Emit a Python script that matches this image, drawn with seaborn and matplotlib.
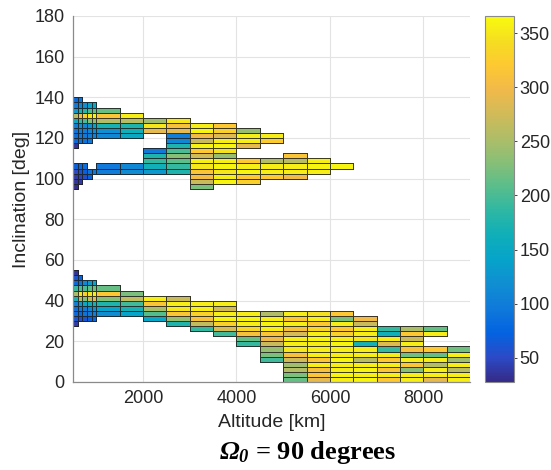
import numpy as np
import pandas as pd
import matplotlib
matplotlib.use("Agg")
import matplotlib.pyplot as plt
from matplotlib.colors import LinearSegmentedColormap, to_rgba
import seaborn as sns

nan = np.nan

# Altitude bins [km]: 100 km wide up to 1000 km, 500 km wide above
alt_edges = [500, 600, 700, 800, 900, 1000, 1500, 2000, 2500, 3000, 3500, 4000,
             4500, 5000, 5500, 6000, 6500, 7000, 7500, 8000, 8500, 9000]
inc_step = 2.5
inc_edges = list(np.arange(0, 180 + inc_step, inc_step))

# Retrograde group: inclination of the top edge of each altitude column and the
# cell values from that edge downwards (nan = empty cell)
upper_top = [140, 140, 137.5, 137.5, 137.5, 135, 132.5, 130, 130, 127.5, 127.5,
             125, 122.5, 112.5, 110, 107.5, None, None, None, None, None]
upper_values = [
    [80, 95, 130, 260, 150, 100, 90, 85, 80, 35, nan, nan, nan, 70, 50, 40, 35, 30],
    [90, 110, 170, 300, 190, 120, 100, 95, 90, nan, nan, nan, nan, 80, 60, 45, 40],
    [120, 180, 330, 200, 110, 100, 95, 90, nan, nan, nan, nan, 85, 70, 55],
    [140, 200, 350, 230, 120, 110, 100, 95, nan, nan, nan, nan, nan, 90, 75],
    [150, 210, 360, 240, 140, 115, 105, nan, nan, nan, nan, nan, nan, 95],
    [215, 315, 255, 170, 120, 110, nan, nan, nan, nan, nan, 95, 100],
    [355, 260, 175, 165, 150, nan, nan, nan, nan, nan, 110, 115],
    [245, 350, 290, nan, nan, nan, 95, 175, 190, 165, 130],
    [350, 310, 290, 100, 110, 175, 200, 230, 210, 190, 175],
    [355, 360, 300, 270, 360, 320, 275, 355, 350, 315, 305, 270, 225],
    [320, 330, 285, 355, 360, 345, 240, 355, 360, 350, 355, 360],
    [240, 355, 355, 290, nan, nan, 320, 355, 360, 320, 330],
    [355, 325, nan, nan, nan, 255, 355, 355, 320],
    [315, 260, 355, 355, 300],
    [355, 360, 355],
    [360],
    [], [], [], [], [],
]

# Prograde group, same layout
lower_top = [55, 52.5, 50, 50, 50, 47.5, 45, 42.5, 42.5, 40, 40, 35, 35, 35, 35,
             35, 32.5, 27.5, 27.5, 27.5, 17.5]
lower_values = [
    [35, 60, 80, 190, 250, 170, 100, 85, 80, 60, 40],
    [75, 90, 200, 350, 260, 130, 95, 80, 55],
    [110, 200, 330, 230, 150, 100, 90, 60],
    [130, 210, 350, 270, 160, 110, 95, 70],
    [140, 220, 355, 290, 170, 120, 100, 80],
    [215, 320, 230, 175, 140, 115],
    [225, 265, 195, 170, 140],
    [355, 315, 250, 205, 145],
    [270, 355, 350, 315, 240, 175],
    [355, 355, 330, 310, 265, 190],
    [355, 275, 355, 360, 330, 280, 195],
    [355, 360, 355, 335, 310, 215, 190],
    [255, 355, 360, 355, 315, 295, 270, 240, 225, 195],
    [355, 320, 355, 310, 280, 355, 355, 350, 310, 275, 245, 255, 225, 215],
    [345, 355, 320, 335, 355, 360, 355, 355, 355, 315, 355, 310, 315, 290],
    [320, 225, 355, 320, 330, 355, 360, 355, 355, 360, 355, 355, 360, 355],
    [300, 270, 355, 355, 350, 170, 355, 355, 260, 355, 360, 355, 360],
    [190, 165, 355, 285, 190, 355, 320, 355, 315, 355, 320],
    [250, 320, 270, 355, 310, 220, 355, 315, 230, 355, 355],
    [215, 355, nan, nan, 320, 215, 355, 255, 355, 355, 290],
    [220, 355, 245, 355, 260, 355, 355],
]

color_limits = (27.5, 366)

# Parula-like colour map
parula_anchors = [
    (0.2081, 0.1663, 0.5292), (0.1707, 0.2919, 0.7792), (0.0117, 0.3875, 0.8820),
    (0.0629, 0.4737, 0.8554), (0.0641, 0.5570, 0.8240), (0.0231, 0.6418, 0.7913),
    (0.0590, 0.6838, 0.7254), (0.1801, 0.7177, 0.6424), (0.3482, 0.7424, 0.5473),
    (0.5300, 0.7491, 0.4661), (0.6834, 0.7435, 0.4044), (0.8185, 0.7327, 0.3498),
    (0.9450, 0.7261, 0.2886), (0.9955, 0.7861, 0.1967), (0.9626, 0.8705, 0.1309),
    (0.9763, 0.9831, 0.0538),
]
parula = LinearSegmentedColormap.from_list("parula", parula_anchors, N=256)

# Long-form table: one row per filled cell, value used as the histogram weight
records = []
for tops, values in ((upper_top, upper_values), (lower_top, lower_values)):
    for j, (top, column) in enumerate(zip(tops, values)):
        if top is None:
            continue
        alt_mid = 0.5 * (alt_edges[j] + alt_edges[j + 1])
        for k, v in enumerate(column):
            if np.isnan(v):
                continue
            records.append({"altitude": alt_mid,
                            "inclination": top - inc_step * (k + 0.5),
                            "value": v})
cells = pd.DataFrame(records)

sns.set_theme(style="whitegrid")
plt.rcParams["font.family"] = ["Liberation Sans", "DejaVu Sans"]
plt.rcParams["mathtext.fontset"] = "custom"
plt.rcParams["mathtext.rm"] = "Liberation Serif:bold:italic"
plt.rcParams["mathtext.it"] = "Liberation Serif:bold:italic"

W, H = 551, 470
fig = plt.figure(figsize=(W / 100, H / 100), dpi=100)
ax = fig.add_axes([73 / W, 88 / H, 397 / W, 366 / H])
cax = fig.add_axes([485 / W, 88 / H, 28.5 / W, 366 / H])

sns.histplot(data=cells, x="altitude", y="inclination", weights="value",
             bins=[alt_edges, inc_edges], cmap=parula, cbar=True, cbar_ax=cax,
             ax=ax, linewidth=0.6)

mesh = ax.collections[0]
mesh.set_clim(*color_limits)
empty = np.ma.getmaskarray(mesh.get_array()).ravel()
edge = np.tile(to_rgba("#1e1e1e", 0.85), (empty.size, 1))
edge[empty, 3] = 0
mesh.set_edgecolor(edge)
mesh.set_linewidth(0.6)

text_col = "#262626"
ax.set_xlim(500, 9000)
ax.set_ylim(0, 180)
ax.set_xticks([2000, 4000, 6000, 8000])
ax.set_yticks(range(0, 181, 20))
ax.grid(True, color="#e3e3e3", linewidth=0.8)
ax.set_axisbelow(True)
for side in ("top", "right"):
    ax.spines[side].set_visible(False)
for side in ("left", "bottom"):
    ax.spines[side].set_color("#8a8a8a")
    ax.spines[side].set_linewidth(0.9)
ax.tick_params(labelsize=13, colors=text_col, length=0, pad=6)
ax.set_xlabel("Altitude [km]", fontsize=14, color=text_col, labelpad=5)
ax.set_ylabel("Inclination [deg]", fontsize=14, color=text_col, labelpad=3)

cax.set_yticks([50, 100, 150, 200, 250, 300, 350])
cax.tick_params(labelsize=13, colors=text_col, length=2.5, width=0.6, pad=2,
                direction="out")
cax.yaxis.set_ticks_position("right")
for sp in cax.spines.values():
    sp.set_color("#8a8a8a")
    sp.set_linewidth(0.8)
cax.grid(False)

fig.text(308 / W, 1 - 452 / H, r"$\Omega_0$ = 90 degrees", ha="center",
         va="center", fontsize=19, fontweight="bold", color="black",
         family="Liberation Serif")

fig.savefig("out.png", dpi=100)
